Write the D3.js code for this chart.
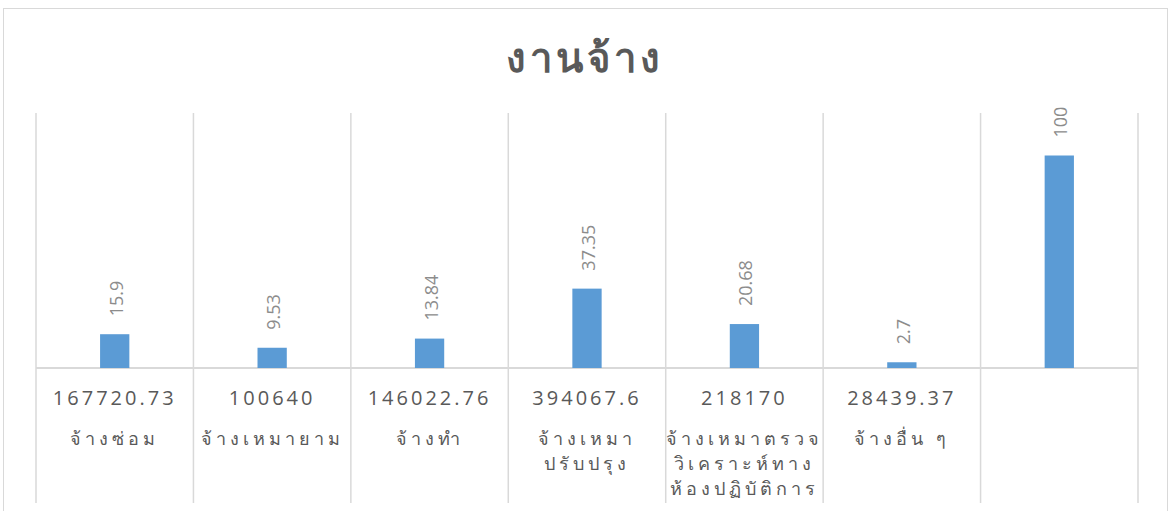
<!DOCTYPE html>
<html>
<head>
<meta charset="utf-8">
<script src="https://cdn.jsdelivr.net/npm/d3@7"></script>
<style>
  body { margin: 0; background: #fff; }
  svg { display: block; }
</style>
</head>
<body>
<svg width="1170" height="511"></svg>
<script>
const categories = ["จ้างซ่อม", "จ้างเหมายาม", "จ้างทำ", "จ้างเหมาปรับปรุง", "จ้างเหมาตรวจวิเคราะห์ทางห้องปฏิบัติการ", "จ้างอื่น ๆ", ""];
const labelLines = [["จ้างซ่อม"], ["จ้างเหมายาม"], ["จ้างทำ"], ["จ้างเหมา", "ปรับปรุง"], ["จ้างเหมาตรวจ", "วิเคราะห์ทาง", "ห้องปฏิบัติการ"], ["จ้างอื่น ๆ"], []];
const amounts = ["167720.73", "100640", "146022.76", "394067.6", "218170", "28439.37", ""];
const percents = [15.9, 9.53, 13.84, 37.35, 20.68, 2.7, 100];
const title = "งานจ้าง";

const svg = d3.select("svg");
const width = 1170;

const grid = "#d9d9d9";
const plotLeft = 36, plotRight = 1138, plotTop = 113, base = 368, plotBottom = 503;

// chart frame
svg.append("rect")
    .attr("x", 3.5).attr("y", 8.5)
    .attr("width", 1164).attr("height", 520)
    .attr("fill", "#fff")
    .attr("stroke", grid)
    .attr("stroke-width", 1);

svg.append("text")
    .attr("x", width / 2)
    .attr("y", 72)
    .attr("text-anchor", "middle")
    .style("font-family", "'Noto Sans', 'DejaVu Sans', sans-serif")
    .style("font-size", "40px")
    .style("font-weight", "bold")
    .style("letter-spacing", "4px")
    .style("fill", "#595959")
    .text(title);

const x = d3.scaleBand()
    .domain(d3.range(categories.length))
    .range([plotLeft, plotRight])
    .padding(0);

const y = d3.scaleLinear()
    .domain([0, 120])
    .range([base, plotTop]);

// vertical category separators
const seps = d3.range(categories.length + 1).map(i => plotLeft + i * x.bandwidth());
svg.selectAll(".sep")
    .data(seps).enter().append("line")
    .attr("x1", d => d).attr("x2", d => d)
    .attr("y1", plotTop).attr("y2", plotBottom)
    .attr("stroke", grid)
    .attr("stroke-width", 1.5);

svg.append("line")
    .attr("x1", plotLeft).attr("x2", plotRight)
    .attr("y1", base).attr("y2", base)
    .attr("stroke", grid)
    .attr("stroke-width", 2);

const barW = x.bandwidth() * 0.186;

svg.selectAll(".bar")
    .data(percents).enter().append("rect")
    .attr("x", (d, i) => x(i) + x.bandwidth() / 2 - barW / 2)
    .attr("y", d => y(d))
    .attr("width", barW)
    .attr("height", d => y(0) - y(d))
    .attr("fill", "#5b9bd5");

svg.selectAll(".val")
    .data(percents).enter().append("text")
    .attr("transform", (d, i) => `translate(${x(i) + x.bandwidth() / 2 + 1}, ${y(d) - 18}) rotate(-90)`)
    .attr("text-anchor", "start")
    .attr("dominant-baseline", "central")
    .style("font-family", "'Open Sans', 'Noto Sans', sans-serif")
    .style("font-size", "18px")
    .style("fill", "#8c8c8c")
    .text(d => d);

svg.selectAll(".amt")
    .data(amounts).enter().append("text")
    .attr("x", (d, i) => x(i) + x.bandwidth() / 2)
    .attr("y", 397)
    .attr("text-anchor", "middle")
    .attr("dominant-baseline", "central")
    .style("font-family", "'Open Sans', sans-serif")
    .style("font-size", "20px")
    .style("letter-spacing", "3px")
    .style("fill", "#595959")
    .text(d => d);

const catG = svg.selectAll(".cat")
    .data(labelLines).enter().append("g")
    .attr("transform", (d, i) => `translate(${x(i) + x.bandwidth() / 2}, 438)`);

catG.selectAll("text")
    .data(d => d).enter().append("text")
    .attr("x", 0)
    .attr("y", (d, j) => j * 25)
    .attr("text-anchor", "middle")
    .attr("dominant-baseline", "central")
    .style("font-family", "'Noto Sans', 'DejaVu Sans', sans-serif")
    .style("font-size", "18px")
    .style("letter-spacing", "4px")
    .style("fill", "#595959")
    .text(d => d);
</script>
</body>
</html>
